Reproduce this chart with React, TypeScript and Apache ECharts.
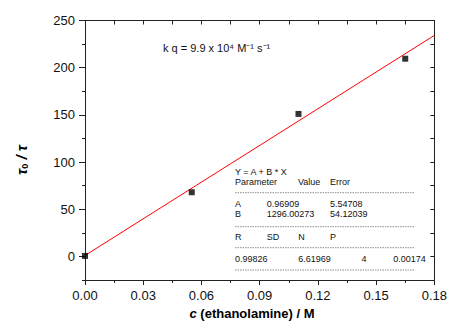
import React, { useEffect, useRef } from "react";
import * as echarts from "echarts";

const concentrations = [0, 0.055, 0.11, 0.165];
const ratios = [0.5, 68, 151, 209.5];
const fitA = 0.96909;
const fitB = 1296.00273;
const xTicks = [0, 0.03, 0.06, 0.09, 0.12, 0.15, 0.18];
const yMajor = [0, 50, 100, 150, 200, 250];
const yMinor = [-25, 25, 75, 125, 175, 225];
const fitRows = [
  ["Parameter", "Value", "Error"],
  ["A", "0.96909", "5.54708"],
  ["B", "1296.00273", "54.12039"],
];
const statHeaders = ["R", "SD", "N", "P"];
const statValues = ["0.99826", "6.61969", "4", "0.00174"];

const FONT = "'Liberation Sans', Arial, sans-serif";

export default function App() {
  const ref = useRef<HTMLDivElement>(null);
  useEffect(() => {
    if (!ref.current) return;
    const chart = echarts.init(ref.current, undefined, { renderer: "svg" });
    const axisColor = "#222";
    const xMax = xTicks[xTicks.length - 1];
    const fitLine = [
      [xTicks[0], fitA + fitB * xTicks[0]],
      [xMax, fitA + fitB * xMax],
    ];
    const smallText = (text: string, x: number, y: number, align = "left") => ({
      type: "text",
      x,
      y,
      style: { text, font: `9px ${FONT}`, fill: "#111", align, verticalAlign: "middle" },
    });
    const dash = (y: number) => ({
      type: "line",
      shape: { x1: 235, y1: y, x2: 415, y2: y },
      style: { stroke: "#444", lineWidth: 0.6, lineDash: [1.5, 1] },
    });
    const graphics: any[] = [
      {
        type: "text",
        x: 163,
        y: 48,
        style: {
          text: "k q = 9.9 x 10⁴ M⁻¹ s⁻¹",
          font: `11px ${FONT}`,
          fill: "#111",
          verticalAlign: "middle",
        },
      },
      {
        type: "text",
        x: 20,
        y: 160,
        rotation: Math.PI / 2,
        style: {
          text: "{a|τ}{s|0}{a| / τ}",
          align: "center",
          verticalAlign: "middle",
          rich: {
            a: { font: `bold italic 15px ${FONT}`, fill: "#000", lineHeight: 18, verticalAlign: "bottom" },
            s: { font: `bold 9px ${FONT}`, fill: "#000", lineHeight: 14, verticalAlign: "bottom" },
          },
        },
      },
      {
        type: "text",
        x: 252,
        y: 313,
        style: {
          text: "{i|c}{b| (ethanolamine) / M}",
          align: "center",
          verticalAlign: "middle",
          rich: {
            i: { font: `bold italic 13px ${FONT}`, fill: "#000" },
            b: { font: `bold 13px ${FONT}`, fill: "#000" },
          },
        },
      },
      smallText("Y = A + B * X", 235, 171.5),
      smallText(fitRows[0][0], 235, 182),
      smallText(fitRows[0][1], 298, 182),
      smallText(fitRows[0][2], 330, 182),
      dash(192.7),
      smallText(fitRows[1][0], 235, 204),
      smallText(fitRows[1][1], 266.7, 204),
      smallText(fitRows[1][2], 330, 204),
      smallText(fitRows[2][0], 235, 214.3),
      smallText(fitRows[2][1], 266.7, 214.3),
      smallText(fitRows[2][2], 330, 214.3),
      dash(226.7),
      smallText(statHeaders[0], 235, 237.3),
      smallText(statHeaders[1], 266.7, 237.3),
      smallText(statHeaders[2], 298.3, 237.3),
      smallText(statHeaders[3], 330, 237.3),
      dash(247.7),
      smallText(statValues[0], 235, 259.3),
      smallText(statValues[1], 298.3, 259.3),
      smallText(statValues[2], 364, 259.3, "center"),
      smallText(statValues[3], 393.3, 259.3),
      dash(270),
    ];
    chart.setOption({
      animation: false,
      backgroundColor: "#fff",
      textStyle: { fontFamily: FONT },
      grid: { left: 85, right: 15, top: 20.5, bottom: 49, containLabel: false },
      xAxis: [
        {
          type: "value",
          position: "bottom",
          min: 0,
          max: xMax,
          interval: 0.03,
          axisLine: { show: true, onZero: false, lineStyle: { color: axisColor, width: 1 } },
          axisTick: { show: true, inside: false, length: 5, lineStyle: { color: axisColor } },
          minorTick: { show: true, splitNumber: 2, length: 3, lineStyle: { color: axisColor } },
          axisLabel: {
            margin: 9,
            fontSize: 13,
            color: "#111",
            fontFamily: FONT,
            formatter: (v: number) => v.toFixed(2),
          },
          splitLine: { show: false },
        },
        {
          type: "value",
          position: "top",
          min: 0,
          max: xMax,
          interval: 0.015,
          axisLine: { show: true, onZero: false, lineStyle: { color: axisColor, width: 1 } },
          axisTick: { show: true, inside: true, length: 4, lineStyle: { color: axisColor } },
          axisLabel: { show: false },
          splitLine: { show: false },
        },
      ],
      yAxis: [
        {
          type: "value",
          position: "left",
          min: -25,
          max: 250,
          interval: 25,
          axisLine: { show: true, onZero: false, lineStyle: { color: axisColor, width: 1 } },
          axisTick: { show: true, inside: false, length: 6, customValues: yMajor, lineStyle: { color: axisColor } },
          axisLabel: {
            margin: 10,
            fontSize: 13,
            color: "#111",
            fontFamily: FONT,
            customValues: yMajor,
          },
          splitLine: { show: false },
        },
        {
          type: "value",
          position: "left",
          min: -25,
          max: 250,
          interval: 25,
          axisLine: { show: false },
          axisTick: { show: true, inside: false, length: 3, customValues: yMinor, lineStyle: { color: axisColor } },
          axisLabel: { show: false },
          splitLine: { show: false },
        },
        {
          type: "value",
          position: "right",
          min: -25,
          max: 250,
          interval: 25,
          axisLine: { show: true, onZero: false, lineStyle: { color: axisColor, width: 1 } },
          axisTick: { show: true, inside: true, length: 4, lineStyle: { color: axisColor } },
          axisLabel: { show: false },
          splitLine: { show: false },
        },
      ],
      series: [
        {
          type: "line",
          data: fitLine,
          showSymbol: false,
          symbol: "none",
          lineStyle: { color: "#ff0000", width: 1 },
          z: 2,
        },
        {
          type: "scatter",
          data: concentrations.map((c, i) => [c, ratios[i]]),
          symbol: "rect",
          symbolSize: 6,
          itemStyle: { color: "#000" },
          z: 3,
        },
      ],
      graphic: graphics,
    });
    return () => chart.dispose();
  }, []);
  return <div ref={ref} style={{ width: 450, height: 329, position: "absolute", left: 0, top: 0 }} />;
}
